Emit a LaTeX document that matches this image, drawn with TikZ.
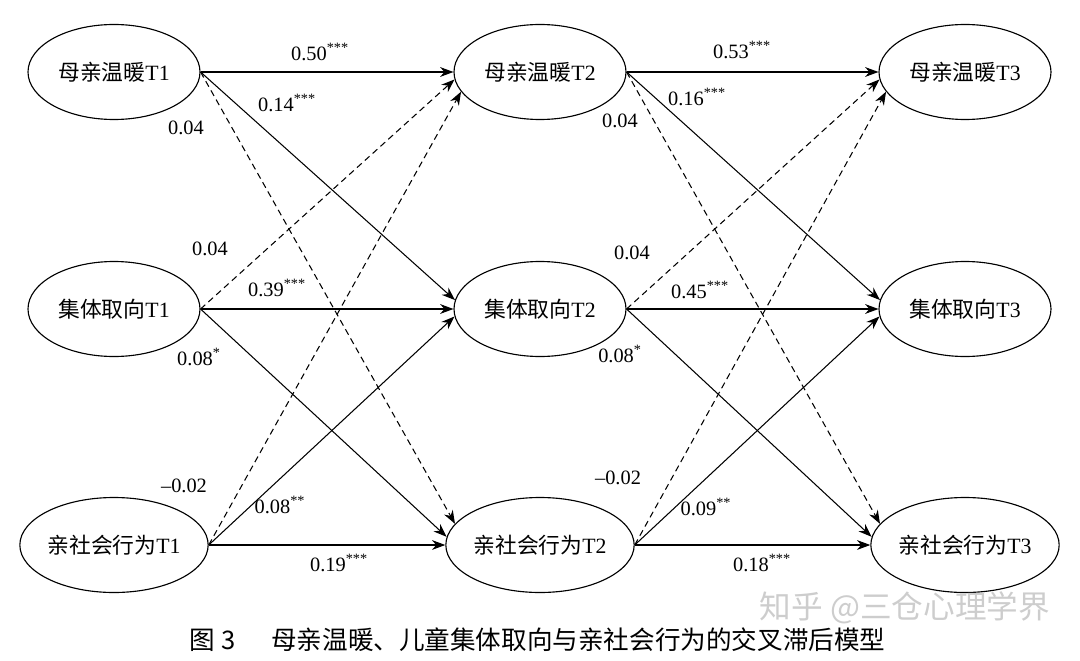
\documentclass[tikz,border=0pt]{standalone}
\usepackage{fontspec}
\usepackage{tikz}
\usepackage{xcolor}
\usetikzlibrary{shapes.geometric,arrows.meta}
\setmainfont{Liberation Serif}
\newfontfamily\zhfont{Noto Sans CJK SC}
\definecolor{markGray}{RGB}{205,205,205}
\tikzset{
  latentNode/.style={ellipse,draw,line width=0.8pt,minimum width=4.3cm,minimum height=2.375cm,inner sep=0pt,font=\fontsize{15.5}{18}\selectfont},
  pathSolid/.style={line width=0.75pt,-{Stealth[length=9.5pt,width=7pt]}},
  pathDash/.style={pathSolid,dash pattern=on 4.5pt off 3pt},
  coefLabel/.style={inner sep=1pt,font=\fontsize{14.5}{17}\selectfont}
}
\begin{document}
\begin{tikzpicture}
\useasboundingbox (0,0) rectangle (27,16.5);
% wave 1
\node[latentNode] (m1) at (2.85,14.7) {{\zhfont 母亲温暖}T1};
\node[latentNode] (c1) at (2.85,8.775) {{\zhfont 集体取向}T1};
\node[latentNode] (p1) at (2.85,2.875) {{\zhfont 亲社会行为}T1};
% wave 2
\node[latentNode] (m2) at (13.5,14.7) {{\zhfont 母亲温暖}T2};
\node[latentNode] (c2) at (13.5,8.775) {{\zhfont 集体取向}T2};
\node[latentNode] (p2) at (13.5,2.875) {{\zhfont 亲社会行为}T2};
% wave 3
\node[latentNode] (m3) at (24.125,14.7) {{\zhfont 母亲温暖}T3};
\node[latentNode] (c3) at (24.125,8.775) {{\zhfont 集体取向}T3};
\node[latentNode] (p3) at (24.125,2.875) {{\zhfont 亲社会行为}T3};

% T1 -> T2
\draw[pathSolid] (m1.east) -- (m2.west);
\draw[pathSolid] (m1.east) -- (c2.174);
\draw[pathDash] (m1.east) -- (p2.166);
\draw[pathDash] (c1.east) -- (m2.185);
\draw[pathSolid] (c1.east) -- (c2.west);
\draw[pathSolid] (c1.east) -- (p2.175);
\draw[pathDash] (p1.east) -- (m2.194);
\draw[pathSolid] (p1.east) -- (c2.185);
\draw[pathSolid] (p1.east) -- (p2.west);

% T2 -> T3
\draw[pathSolid] (m2.east) -- (m3.west);
\draw[pathSolid] (m2.east) -- (c3.174);
\draw[pathDash] (m2.east) -- (p3.166);
\draw[pathDash] (c2.east) -- (m3.185);
\draw[pathSolid] (c2.east) -- (c3.west);
\draw[pathSolid] (c2.east) -- (p3.175);
\draw[pathDash] (p2.east) -- (m3.194);
\draw[pathSolid] (p2.east) -- (c3.185);
\draw[pathSolid] (p2.east) -- (p3.west);

% coefficients T1 -> T2
\node[coefLabel] (b11) at (8.0,15.2) {0.50\textsuperscript{***}};
\node[coefLabel] (b12) at (7.175,13.925) {0.14\textsuperscript{***}};
\node[coefLabel] (b13) at (4.65,13.3) {0.04};
\node[coefLabel] (b21) at (5.25,10.275) {0.04};
\node[coefLabel] (b22) at (6.925,9.3) {0.39\textsuperscript{***}};
\node[coefLabel] (b23) at (4.975,7.575) {0.08\textsuperscript{*}};
\node[coefLabel] (b31) at (4.6,4.35) {–0.02};
\node[coefLabel] (b32) at (7.0,3.875) {0.08\textsuperscript{**}};
\node[coefLabel] (b33) at (8.475,2.425) {0.19\textsuperscript{***}};

% coefficients T2 -> T3
\node[coefLabel] (d11) at (18.55,15.25) {0.53\textsuperscript{***}};
\node[coefLabel] (d12) at (17.425,14.075) {0.16\textsuperscript{***}};
\node[coefLabel] (d13) at (15.5,13.475) {0.04};
\node[coefLabel] (d21) at (15.8,10.175) {0.04};
\node[coefLabel] (d22) at (17.5,9.25) {0.45\textsuperscript{***}};
\node[coefLabel] (d23) at (15.5,7.65) {0.08\textsuperscript{*}};
\node[coefLabel] (d31) at (15.45,4.55) {–0.02};
\node[coefLabel] (d32) at (17.65,3.825) {0.09\textsuperscript{**}};
\node[coefLabel] (d33) at (19.05,2.425) {0.18\textsuperscript{***}};

% watermark and caption
\node[text=markGray,font=\zhfont\fontsize{22.5}{26}\selectfont] (mark) at (22.625,1.3) {知乎 @三仓心理学界};
\node[anchor=west,font=\zhfont\fontsize{18.2}{21}\selectfont] (caption) at (4.625,0.5) {图 3\hspace{1.4em}母亲温暖、儿童集体取向与亲社会行为的交叉滞后模型};
\end{tikzpicture}
\end{document}
